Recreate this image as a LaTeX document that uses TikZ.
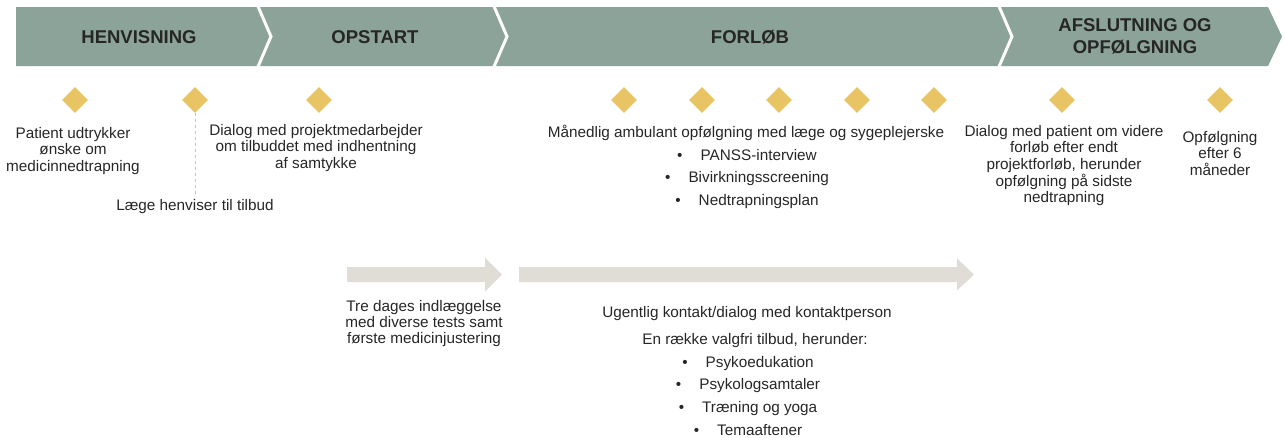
\documentclass[tikz,border=0pt]{standalone}
\usepackage{fontspec}
\setmainfont{Liberation Sans}
\usetikzlibrary{shapes.geometric}
\definecolor{barcol}{HTML}{8BA398}
\definecolor{gold}{HTML}{E8C464}
\definecolor{txt}{HTML}{262626}
\definecolor{arrowcol}{HTML}{E0DDD7}
\definecolor{dashcol}{HTML}{C4C4C4}
\tikzset{
  phase/.style={font=\fontsize{18.5}{22.5}\selectfont\bfseries, text=txt, align=center, inner sep=0pt},
  milestone/.style={diamond, aspect=1, fill=gold, minimum width=26pt, minimum height=26pt, inner sep=0pt},
  uptext/.style={font=\fontsize{15.3}{16.6}\selectfont, text=txt, align=center, inner sep=0pt, anchor=north},
  lowtext/.style={font=\fontsize{15.3}{16}\selectfont, text=txt, align=center, inner sep=0pt, anchor=north},
  bararrow/.style={fill=arrowcol},
  separator/.style={draw=white, line width=3pt},
  guide/.style={draw=dashcol, dashed, line width=0.8pt},
}
\newcommand{\bul}[1]{\textbullet\hspace{18pt}#1}
\begin{document}
\begin{tikzpicture}[x=1pt, y=-1pt]
\useasboundingbox (0,0) rectangle (1285,437);
% header bar
\fill[barcol] (16,7) -- (1268,7) -- (1282,36.5) -- (1268,66) -- (16,66) -- cycle;
\draw[separator] (257,4) -- (271,36.5) -- (257,69);
\draw[separator] (493,4) -- (507,36.5) -- (493,69);
\draw[separator] (998,4) -- (1012,36.5) -- (998,69);
\node[phase] (h1) at (139,37) {HENVISNING};
\node[phase] (h2) at (375,37) {OPSTART};
\node[phase] (h3) at (750,37) {FORLØB};
\node[phase] (h4) at (1135,36.5) {AFSLUTNING OG\\OPFØLGNING};
% milestones
\node[milestone] (m1) at (75,100) {};
\node[milestone] (m2) at (195,100) {};
\node[milestone] (m3) at (319,100) {};
\node[milestone] (m4) at (624,100) {};
\node[milestone] (m5) at (702,100) {};
\node[milestone] (m6) at (779,100) {};
\node[milestone] (m7) at (857,100) {};
\node[milestone] (m8) at (934,100) {};
\node[milestone] (m9) at (1062,100) {};
\node[milestone] (m10) at (1220,100) {};
% upper texts
\node[uptext] (t1) at (73,127) {Patient udtrykker\\ønske om\\medicinnedtrapning};
\node[uptext] (t2) at (195,199) {Læge henviser til tilbud};
\node[uptext] (t3) at (316,124) {Dialog med projektmedarbejder\\om tilbuddet med indhentning\\af samtykke};
\node[uptext] (t4) at (746,125) {Månedlig ambulant opfølgning med læge og sygeplejerske};
\node[uptext] (t4a) at (747,149) {\bul{PANSS-interview}};
\node[uptext] (t4b) at (747,171) {\bul{Bivirkningsscreening}};
\node[uptext] (t4c) at (747,194) {\bul{Nedtrapningsplan}};
\node[uptext] (t5) at (1064,125) {Dialog med patient om videre\\forløb efter endt\\projektforløb, herunder\\opfølgning på sidste\\nedtrapning};
\node[uptext] (t6) at (1220,131) {Opfølgning\\efter 6\\måneder};
\coordinate (g) at (195,196);
\draw[guide] (m2.south) -- (g);
% lower arrows
\fill[bararrow] (347,267) -- (485,267) -- (485,257.5) -- (502,274.5) -- (485,291.5) -- (485,282) -- (347,282) -- cycle;
\fill[bararrow] (519,267) -- (957,267) -- (957,258.5) -- (974,274.5) -- (957,290.5) -- (957,282) -- (519,282) -- cycle;
% lower texts
\node[lowtext] (b1) at (424,300) {Tre dages indlæggelse\\med diverse tests samt\\første medicinjustering};
\node[lowtext] (b2) at (747,306) {Ugentlig kontakt/dialog med kontaktperson};
\node[lowtext] (b3) at (755,333) {En række valgfri tilbud, herunder:};
\node[lowtext] (b4) at (748,356) {\bul{Psykoedukation}};
\node[lowtext] (b5) at (748,378) {\bul{Psykologsamtaler}};
\node[lowtext] (b6) at (748,401) {\bul{Træning og yoga}};
\node[lowtext] (b7) at (748,424) {\bul{Temaaftener}};
\end{tikzpicture}
\end{document}
